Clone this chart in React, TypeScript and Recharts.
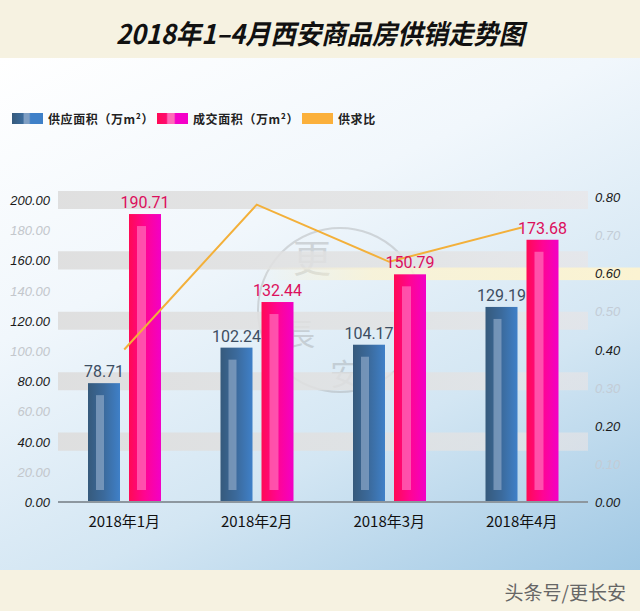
import { ComposedChart, Bar, Line, XAxis, YAxis, ReferenceArea, LabelList } from "recharts";

const months = ["2018年1月", "2018年2月", "2018年3月", "2018年4月"];
const supplyArea = [78.71, 102.24, 104.17, 129.19];
const salesArea = [190.71, 132.44, 150.79, 173.68];
const supplyRatio = [0.4, 0.78, 0.63, 0.72];

const leftTicks = [0, 20, 40, 60, 80, 100, 120, 140, 160, 180, 200];
const rightTicks = [0, 0.1, 0.2, 0.3, 0.4, 0.5, 0.6, 0.7, 0.8];
const bandTicks = [40, 80, 120, 160, 200];

const data = months.map((m, i) => ({
  month: m,
  supply: supplyArea[i],
  sales: salesArea[i],
  ratio: supplyRatio[i],
}));

const axisFont = "'Liberation Sans', Arial, sans-serif";
const cjkFont = "'Noto Sans CJK SC', sans-serif";

function LeftTick({ x, y, payload }: any) {
  const v = payload.value;
  const major = Math.round(v) % 40 === 0;
  return (
    <text x={x} y={y} dy={5} textAnchor="end" fontSize={13} fontStyle="italic" fontFamily={axisFont}
      fill={major ? "#1a1a1a" : "#c3c7cc"}>
      {Number(v).toFixed(2)}
    </text>
  );
}

function RightTick({ x, y, payload, index }: any) {
  const major = index % 2 === 0;
  return (
    <text x={x} y={y} dy={5} textAnchor="start" fontSize={13} fontStyle="italic" fontFamily={axisFont}
      fill={major ? "#1a1a1a" : "#c3ccd6"}>
      {Number(payload.value).toFixed(2)}
    </text>
  );
}

function SupplyBar({ x, y, width, height }: any) {
  if (!height || height <= 0) return null;
  return (
    <g>
      <rect x={x} y={y} width={width} height={height} fill="url(#supplyGrad)" />
      <rect x={x + 8} y={y + 12} width={8} height={Math.max(0, height - 24)} fill="#8ba6c6" fillOpacity={0.7} />
    </g>
  );
}

function SalesBar({ x, y, width, height }: any) {
  if (!height || height <= 0) return null;
  return (
    <g>
      <rect x={x} y={y} width={width} height={height} fill="url(#salesGrad)" />
      <rect x={x + 8} y={y + 12} width={9} height={Math.max(0, height - 24)} fill="#ff6ab8" fillOpacity={0.75} />
    </g>
  );
}

function CreamBand({ x, y, height }: any) {
  return <rect x={x + 200} y={y} width={640 - x - 200} height={height} fill="url(#creamGrad)" />;
}

function LegendItem({ left, swatch, label }: any) {
  return (
    <div style={{ position: "absolute", left, top: 0, display: "flex", alignItems: "center" }}>
      <div style={{ width: 31, height: 11, background: swatch, marginRight: 5 }} />
      <span style={{ fontSize: 12, fontWeight: 700, color: "#222", fontFamily: cjkFont, letterSpacing: 0.6 }}>{label}</span>
    </div>
  );
}

export default function App() {
  return (
    <div style={{ position: "absolute", left: 0, top: 0, width: 640, height: 611, background: "#f6f2e1", overflow: "hidden" }}>
      <div style={{ position: "absolute", left: 0, top: 13, width: 640, height: 40, lineHeight: "40px", textAlign: "center",
        fontFamily: cjkFont, fontWeight: 700, fontStyle: "italic", fontSize: 27, color: "#111",
        transform: "scaleX(0.94)", transformOrigin: "320px 20px" }}>
        2018年1–4月西安商品房供销走势图
      </div>
      <div style={{ position: "absolute", left: 0, top: 58, width: 640, height: 512,
        background: "linear-gradient(155deg, #ffffff 0%, #f1f7fc 35%, #d3e6f3 68%, #a0c8e4 100%)" }} />
      <div style={{ position: "absolute", left: 0, top: 110, width: 640, height: 16 }}>
        <LegendItem left={12} label="供应面积（万m²）"
          swatch="linear-gradient(90deg, #365a7c 0%, #3c6c9c 35%, #7f9fc4 40%, #7f9fc4 55%, #3f80c8 60%, #3f80c8 100%)" />
        <LegendItem left={157} label="成交面积（万m²）"
          swatch="linear-gradient(90deg, #ff0a55 0%, #ff0a70 30%, #ff6ab8 35%, #ff6ab8 55%, #f500c8 60%, #f500c8 100%)" />
        <LegendItem left={302} label="供求比" swatch="#fbb03b" />
      </div>
      <svg width={640} height={611} style={{ position: "absolute", left: 0, top: 0 }}>
        <g opacity={0.35} fill="none" stroke="#9a9a9a" strokeWidth={2}>
          <circle cx={340} cy={310} r={82} />
        </g>
        <g opacity={0.3} fill="#8a8a8a" fontFamily={cjkFont}>
          <text x={312} y={272} fontSize={38} textAnchor="middle">更</text>
          <text x={300} y={345} fontSize={30} textAnchor="middle">長</text>
          <text x={345} y={385} fontSize={30} textAnchor="middle">安</text>
        </g>
      </svg>
      <div style={{ position: "absolute", left: 0, top: 0 }}>
        <ComposedChart width={640} height={611} data={data} barSize={32} barGap={9}
          margin={{ top: 197, right: 0, left: 0, bottom: 69 }}>
          <defs>
            <linearGradient id="supplyGrad" x1="0" y1="0" x2="1" y2="0">
              <stop offset="0%" stopColor="#365a7c" />
              <stop offset="50%" stopColor="#3b6a9c" />
              <stop offset="100%" stopColor="#3f80c8" />
            </linearGradient>
            <linearGradient id="salesGrad" x1="0" y1="0" x2="1" y2="0">
              <stop offset="0%" stopColor="#ff0a55" />
              <stop offset="50%" stopColor="#ff0592" />
              <stop offset="100%" stopColor="#f200c6" />
            </linearGradient>
            <linearGradient id="bandGrad" x1="0" y1="0" x2="1" y2="0">
              <stop offset="0%" stopColor="#dedede" stopOpacity={0.95} />
              <stop offset="70%" stopColor="#e2e2e2" stopOpacity={0.8} />
              <stop offset="100%" stopColor="#eae4e4" stopOpacity={0.6} />
            </linearGradient>
            <linearGradient id="creamGrad" x1="0" y1="0" x2="1" y2="0">
              <stop offset="0%" stopColor="#fbf3d2" stopOpacity={0} />
              <stop offset="30%" stopColor="#fbf3d2" stopOpacity={0.8} />
              <stop offset="100%" stopColor="#fbf3d2" stopOpacity={1} />
            </linearGradient>
          </defs>
          <XAxis dataKey="month" tickLine={false} tickSize={0} tickMargin={14} height={40}
            axisLine={{ stroke: "#8d979f", strokeWidth: 2 }}
            tick={{ fill: "#111", fontSize: 15, fontFamily: cjkFont }} />
          <YAxis yAxisId="left" domain={[0, 202]} ticks={leftTicks} width={58} axisLine={false}
            tickLine={false} tickSize={0} tickMargin={8} tick={<LeftTick />} interval={0} />
          <YAxis yAxisId="right" orientation="right" domain={[0, 0.8]} ticks={rightTicks} width={52}
            axisLine={false} tickLine={false} tickSize={0} tickMargin={7} tick={<RightTick />} interval={0} />
          {bandTicks.map((t) => (
            <ReferenceArea key={t} yAxisId="left" y1={t - 6} y2={t + 6} fill="url(#bandGrad)" fillOpacity={1}
              stroke="none" ifOverflow="visible" />
          ))}
          <ReferenceArea yAxisId="right" y1={0.582} y2={0.615} ifOverflow="visible" shape={<CreamBand />} />
          <Bar yAxisId="left" dataKey="supply" name="供应面积（万m²）" shape={<SupplyBar />} isAnimationActive={false}>
            <LabelList dataKey="supply" position="top" offset={6} fill="#3d4e62" fontSize={16}
              fontFamily="Roboto, sans-serif" />
          </Bar>
          <Bar yAxisId="left" dataKey="sales" name="成交面积（万m²）" shape={<SalesBar />} isAnimationActive={false}>
            <LabelList dataKey="sales" position="top" offset={6} fill="#dc0f5c" fontSize={16}
              fontFamily="Roboto, sans-serif" />
          </Bar>
          <Line yAxisId="right" dataKey="ratio" name="供求比" type="linear" stroke="#f3b03a" strokeWidth={2}
            dot={false} activeDot={false} isAnimationActive={false} />
        </ComposedChart>
      </div>
      <div style={{ position: "absolute", right: 14, top: 578, fontSize: 19, color: "#666", fontFamily: cjkFont }}>
        头条号/更长安
      </div>
    </div>
  );
}
